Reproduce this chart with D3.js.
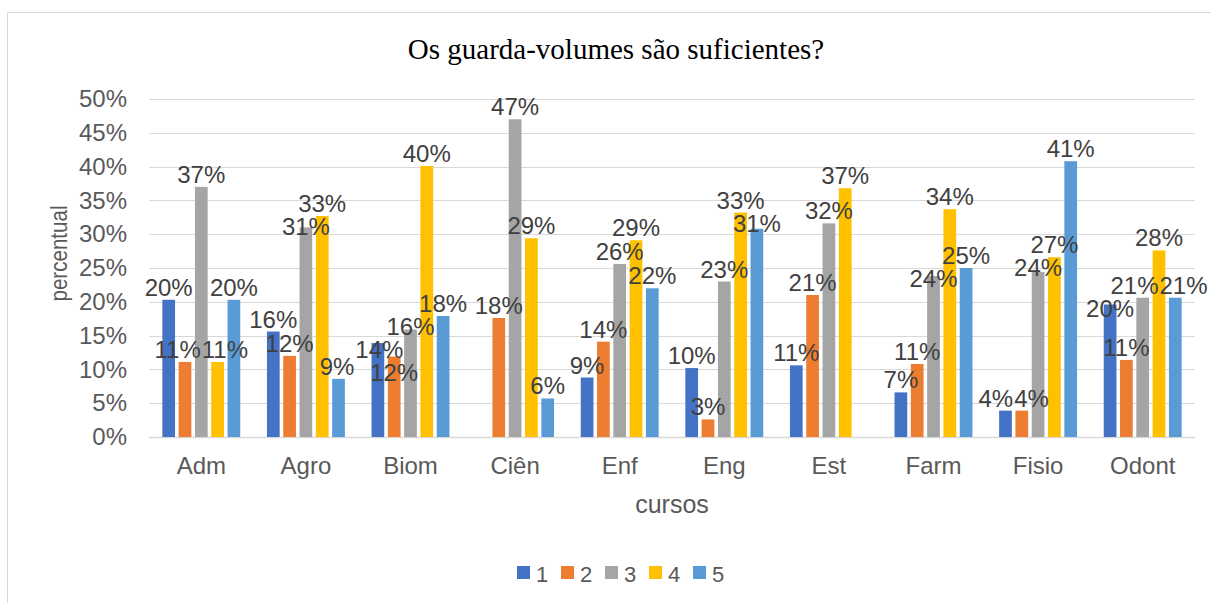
<!DOCTYPE html>
<html>
<head>
<meta charset="utf-8">
<script src="https://cdn.jsdelivr.net/npm/d3@7"></script>
<style>
  body { margin:0; background:#fff; }
  text { font-family:"Liberation Sans", Arial, sans-serif; }
</style>
</head>
<body>
<div class="chart"></div>
<script>
let cursos = ["Adm","Agro","Biom","Ciên","Enf","Eng","Est","Farm","Fisio","Odont"];
let series = ["1","2","3","4","5"];
let s1 = [20.3, 15.6, 13.9, null, 8.8, 10.2, 10.6, 6.6, 3.9, 19.6];
let s2 = [11.1, 12.0, 11.9, 17.6, 14.1, 2.6, 21.0, 10.8, 3.9, 11.4];
let s3 = [37.0, 31.0, 15.9, 47.0, 25.6, 23.0, 31.6, 23.8, 24.4, 20.6];
let s4 = [11.1, 32.7, 40.1, 29.4, 29.1, 33.2, 36.8, 33.7, 26.6, 27.6];
let s5 = [20.3, 8.6, 17.9, 5.7, 22.0, 30.8, null, 25.0, 40.8, 20.6];
let yTicks = [0,5,10,15,20,25,30,35,40,45,50];
let colors = ["#4472C4","#ED7D31","#A5A5A5","#FFC000","#5B9BD5"];

let width = 1211, height = 603;
let margin = {left:149, right:16, top:99, bottom:166};

let svg = d3.select(".chart").append("svg").attr("width",width).attr("height",height);

// chart frame
svg.append("rect")
   .attr("x",7.5).attr("y",12.5).attr("width",1220).attr("height",620)
   .attr("fill","#fff").attr("stroke","#D9D9D9").attr("stroke-width",1);

let x0 = d3.scaleBand().domain(cursos)
           .range([margin.left, width-margin.right])
           .paddingInner(0.255).paddingOuter(0.1275);
let x1 = d3.scaleBand().domain(series)
           .range([0, x0.bandwidth()])
           .paddingInner(0.22).paddingOuter(0);
let y = d3.scaleLinear().domain([0,50]).range([height-margin.bottom, margin.top]);

// gridlines
svg.append("g").selectAll("line").data(yTicks).join("line")
   .attr("x1",margin.left).attr("x2",width-margin.right)
   .attr("y1",d => Math.round(y(d))+0.5).attr("y2",d => Math.round(y(d))+0.5)
   .attr("stroke","#D9D9D9").attr("stroke-width",d => d==0 ? 1.5 : 1);

// y axis labels
let yAxis = d3.axisLeft(y).tickValues(yTicks).tickFormat(d => d+"%").tickSize(0).tickPadding(22);
let yg = svg.append("g").attr("transform","translate("+margin.left+",0)").call(yAxis);
yg.select(".domain").remove();
yg.selectAll("text").attr("font-size",24).attr("fill","#595959")
  .attr("font-family","'Liberation Sans', Arial, sans-serif");

// x axis labels
let xAxis = d3.axisBottom(x0).tickSize(0).tickPadding(20);
let xg = svg.append("g").attr("transform","translate(0,"+(height-margin.bottom)+")").call(xAxis);
xg.select(".domain").remove();
xg.selectAll("text").attr("font-size",24).attr("fill","#595959")
  .attr("font-family","'Liberation Sans', Arial, sans-serif");

// bars
let allSeries = [s1,s2,s3,s4,s5];
let barData = [];
allSeries.forEach((vals, si) => {
  vals.forEach((v, ci) => {
    if (v != null) barData.push({curso:cursos[ci], serie:series[si], value:v, color:colors[si]});
  });
});

svg.append("g").selectAll("rect").data(barData).join("rect")
   .attr("x", d => x0(d.curso) + x1(d.serie))
   .attr("y", d => y(d.value))
   .attr("width", x1.bandwidth())
   .attr("height", d => y(0) - y(d.value))
   .attr("fill", d => d.color);

// data labels, placed above the bar then nudged apart where they collide
let labels = svg.append("g").selectAll("text").data(barData).join("text")
   .attr("text-anchor","middle")
   .attr("font-size",24)
   .attr("fill","#404040")
   .text(d => Math.round(d.value) + "%");

let capH = 22;
labels.each(function(d) {
  d.lx = x0(d.curso) + x1(d.serie) + x1.bandwidth()/2;
  d.ly = y(d.value) - 4;
  d.w = this.getComputedTextLength();
});

for (let it = 0; it < 80; it++) {
  let moved = false;
  for (let i = 0; i < barData.length; i++) {
    for (let j = i+1; j < barData.length; j++) {
      let a = barData[i], b = barData[j];
      let ox = (a.w + b.w)/2 + 1 - Math.abs(a.lx - b.lx);
      let oy = capH + 1 - Math.abs(a.ly - b.ly);
      if (ox <= 0 || oy <= 0) continue;
      moved = true;
      if (ox < oy) {
        let s = a.lx < b.lx ? -1 : 1;
        a.lx += s*ox/2; b.lx -= s*ox/2;
      } else {
        // the label of the shorter bar gives way downward
        let low = a.value < b.value ? a : b;
        low.ly += oy;
      }
    }
  }
  if (!moved) break;
}
labels.attr("x", d => d.lx).attr("y", d => d.ly);

// title
svg.append("text")
   .attr("x",616).attr("y",59)
   .attr("text-anchor","middle")
   .style("font-family","'Liberation Serif', 'Times New Roman', serif")
   .attr("font-size",29).attr("fill","#000")
   .text("Os guarda-volumes são suficientes?");

// axis titles
svg.append("text")
   .attr("transform","translate(67,253.5)rotate(-90)")
   .attr("text-anchor","middle")
   .attr("font-size",24).attr("fill","#595959")
   .attr("textLength",96).attr("lengthAdjust","spacingAndGlyphs")
   .text("percentual");

svg.append("text")
   .attr("x",672).attr("y",513)
   .attr("text-anchor","middle")
   .attr("font-size",25).attr("fill","#595959")
   .text("cursos");

// legend
let legend = svg.append("g").attr("transform","translate(517,566)");
let legendItem = legend.selectAll("g").data(series).join("g")
   .attr("transform",(d,i) => "translate("+(i*44)+",0)");
legendItem.append("rect").attr("width",13).attr("height",13).attr("fill",(d,i) => colors[i]);
legendItem.append("text").attr("x",19).attr("y",15.5)
   .attr("font-size",22).attr("fill","#595959").text(d => d);
</script>
</body>
</html>
